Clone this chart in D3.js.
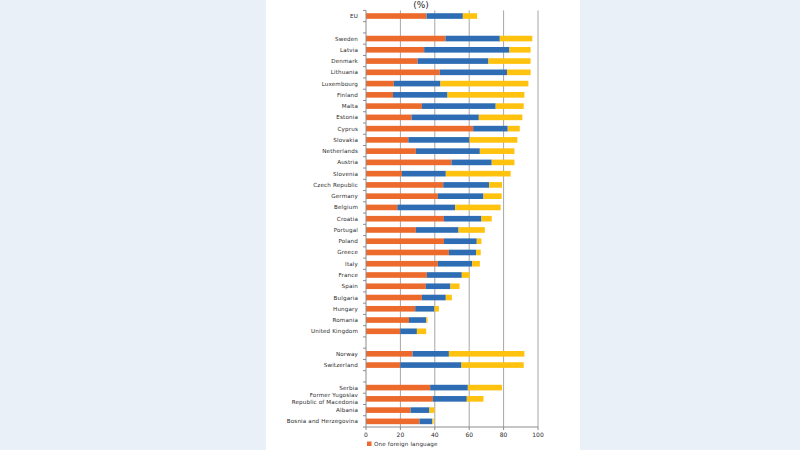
<!DOCTYPE html>
<html>
<head>
<meta charset="utf-8">
<script src="https://cdn.jsdelivr.net/npm/d3@7"></script>
<style>
  body { margin: 0; background: #eaf0f8; }
  svg { display: block; }
  text { font-family: "DejaVu Sans", Verdana, sans-serif; fill: #2a2a2a; }
</style>
</head>
<body>
<svg id="chart" width="800" height="450"></svg>
<script>
// rows from top to bottom, "" = empty spacer row
var countries = ["EU", "",
  "Sweden", "Latvia", "Denmark", "Lithuania", "Luxembourg", "Finland", "Malta", "Estonia",
  "Cyprus", "Slovakia", "Netherlands", "Austria", "Slovenia", "Czech Republic", "Germany",
  "Belgium", "Croatia", "Portugal", "Poland", "Greece", "Italy", "France", "Spain",
  "Bulgaria", "Hungary", "Romania", "United Kingdom", "",
  "Norway", "Switzerland", "",
  "Serbia", "Former Yugoslav|Republic of Macedonia", "Albania", "Bosnia and Herzegovina"];

var oneLang = [35.2, null,
  46.2, 33.8, 30.0, 42.9, 16.2, 15.7, 32.5, 26.5,
  62.3, 24.6, 29.0, 49.7, 20.9, 44.9, 41.8,
  18.2, 45.3, 29.0, 45.3, 48.2, 41.8, 35.4, 34.8,
  32.5, 28.6, 25.0, 19.9, null,
  27.1, 19.9, null,
  37.3, 38.9, 25.9, 31.1];

var twoLang = [21.1, null,
  31.6, 49.6, 41.2, 39.1, 27.1, 31.7, 42.9, 39.1,
  20.1, 35.6, 37.2, 23.4, 25.5, 26.7, 26.5,
  33.6, 21.8, 24.8, 19.1, 15.8, 19.9, 20.3, 14.3,
  13.9, 11.2, 10.0, 9.7, null,
  21.1, 35.6, null,
  21.9, 19.7, 11.0, 7.4];

var threeLang = [8.3, null,
  18.9, 12.3, 24.5, 13.7, 51.1, 44.7, 16.3, 25.3,
  7.0, 27.8, 20.1, 13.2, 37.7, 7.5, 10.6,
  26.5, 6.0, 15.3, 2.7, 2.7, 4.5, 4.5, 5.3,
  3.5, 2.6, 0.8, 5.4, null,
  43.9, 36.2, null,
  19.9, 9.7, 2.9, 0.8];

var seriesNames = ["One foreign language", "Two foreign languages", "Three or more foreign languages"];
var xTicks = [0, 20, 40, 60, 80, 100];

var colors = ["#ec6b2c", "#2e6db4", "#ffc20e"];

var svg = d3.select("#chart");

// white panel
svg.append("rect").attr("x", 266).attr("y", 0).attr("width", 314).attr("height", 450).attr("fill", "#fff");

var x = d3.scaleLinear().domain([0, 100]).range([366, 538]);
var y = d3.scaleBand()
  .domain(d3.range(countries.length))
  .range([10.4, 427])
  .paddingInner(0.5)
  .paddingOuter(0.25);
var step = y.step();
var top0 = 10.4;

// title
svg.append("text").attr("x", 421).attr("y", 8).attr("text-anchor", "middle")
  .style("font-size", "9px").text("(%)");

// gridlines
svg.selectAll(".grid").data(xTicks.slice(1)).enter().append("line")
  .attr("x1", function(d) { return x(d); }).attr("x2", function(d) { return x(d); })
  .attr("y1", top0).attr("y2", 427)
  .attr("stroke", "#a6a6a6").attr("stroke-width", 1);

// stacked bars
var rows = countries.map(function(c, i) {
  return { i: i, one: oneLang[i] || 0, two: twoLang[i] || 0, three: threeLang[i] || 0 };
});
var stack = d3.stack().keys(["one", "two", "three"]);
var layers = stack(rows);

svg.selectAll(".layer").data(layers).enter().append("g")
  .attr("fill", function(d, k) { return colors[k]; })
  .selectAll("rect").data(function(d) { return d; }).enter().append("rect")
  .attr("x", function(d) { return x(d[0]); })
  .attr("width", function(d) { return x(d[1]) - x(d[0]); })
  .attr("y", function(d) { return y(d.data.i); })
  .attr("height", y.bandwidth());

// y axis line + ticks at band boundaries
svg.append("line").attr("x1", x(0)).attr("x2", x(0)).attr("y1", top0).attr("y2", 427)
  .attr("stroke", "#8c8c8c");
svg.selectAll(".ytick").data(d3.range(countries.length + 1)).enter().append("line")
  .attr("x1", x(0) - 3).attr("x2", x(0))
  .attr("y1", function(d) { return top0 + d * step; })
  .attr("y2", function(d) { return top0 + d * step; })
  .attr("stroke", "#8c8c8c");

// x axis line
svg.append("line").attr("x1", x(0)).attr("x2", x(100)).attr("y1", 427).attr("y2", 427)
  .attr("stroke", "#8c8c8c");
svg.selectAll(".xtick").data(xTicks).enter().append("line")
  .attr("x1", function(d) { return x(d); }).attr("x2", function(d) { return x(d); })
  .attr("y1", 427).attr("y2", 430).attr("stroke", "#8c8c8c");
svg.selectAll(".xlabel").data(xTicks).enter().append("text")
  .attr("x", function(d) { return x(d); }).attr("y", 436.5)
  .attr("text-anchor", "middle").style("font-size", "6px")
  .text(function(d) { return d; });

// category labels
svg.selectAll(".ylabel").data(countries).enter().append("text")
  .attr("text-anchor", "end")
  .attr("x", 358)
  .attr("y", function(d, i) { return y(i) + y.bandwidth() / 2 + 2; })
  .style("font-size", "5.6px")
  .style("letter-spacing", "0.15px")
  .each(function(d) {
    var parts = d.split("|");
    var t = d3.select(this);
    if (parts.length > 1) {
      parts.forEach(function(p, k) {
        t.append("tspan").attr("x", 358).attr("dy", k == 0 ? "-3.4" : "7").text(p);
      });
    } else {
      t.text(d);
    }
  });

// legend (only first entry lies inside the picture)
var lg = svg.append("g").attr("transform", "translate(367,441.5)");
lg.append("rect").attr("width", 4.5).attr("height", 4.5).attr("fill", colors[0]);
lg.append("text").attr("x", 7).attr("y", 4.3).style("font-size", "5.6px")
  .style("letter-spacing", "0.15px").text(seriesNames[0]);
</script>
</body>
</html>
